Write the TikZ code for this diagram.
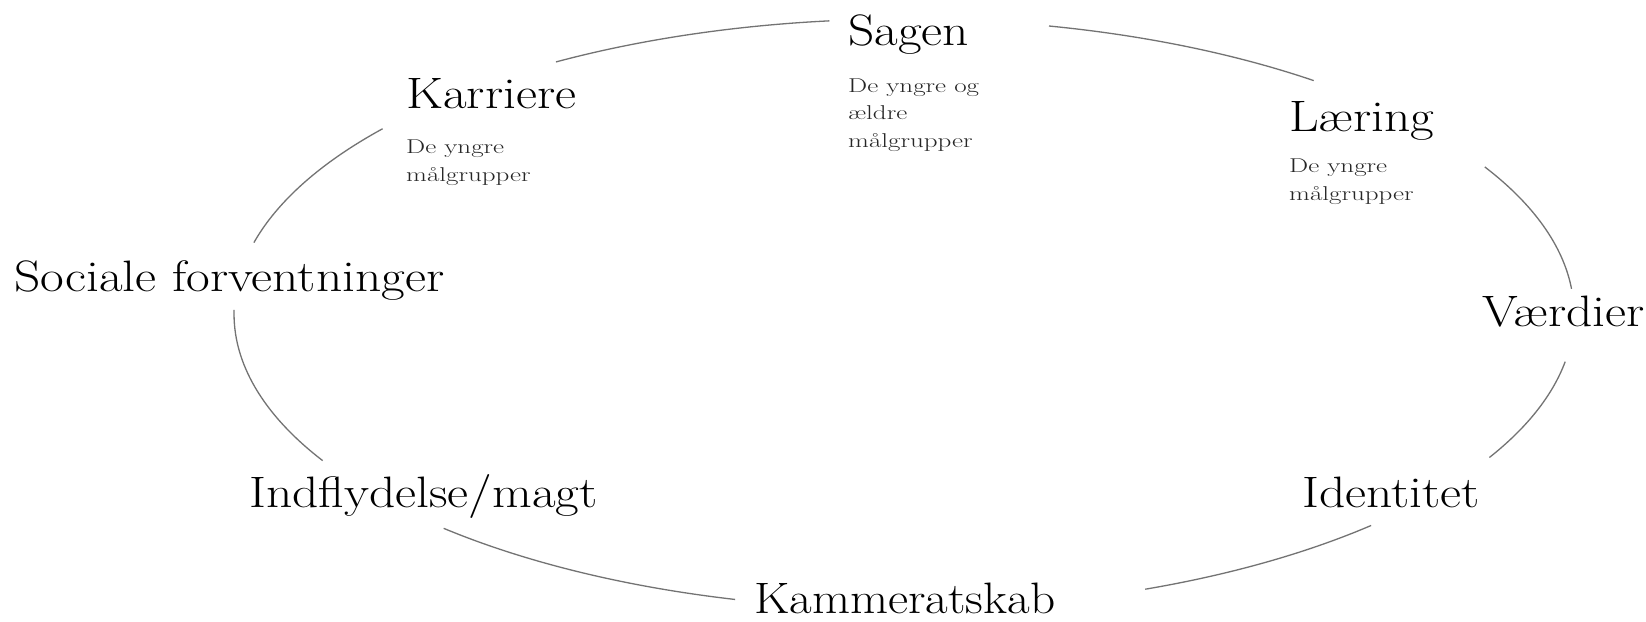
\documentclass[tikz,border=0pt]{standalone}
\usepackage{fontspec}
\newfontfamily\bigfont[FakeStretch=1.17]{Latin Modern Roman}
\newfontfamily\kammfont[FakeStretch=1.12]{Latin Modern Roman}
\newfontfamily\smallfont[FakeStretch=1.35]{Latin Modern Roman}
\begin{document}
\begin{tikzpicture}[x=1pt,y=1pt,
  big/.style={anchor=base west,inner sep=0pt,font=\bigfont\fontsize{44}{48}\selectfont},
  small/.style={anchor=base west,inner sep=0pt,align=left,text=black!85,font=\smallfont\fontsize{20}{27.5}\selectfont},
  ring/.style={draw=black!55,line width=1.3pt}]
\useasboundingbox[fill=white] (0,0) rectangle (1646,-621);
\coordinate (C) at (904,-314);
% labels
\node[big] (sagen) at (848,-45) {Sagen};
\node[small] (sagensub) at (848,-147) {De yngre og\\ældre\\målgrupper};
\node[big] (karriere) at (406,-108) {Karriere};
\node[small] (karrsub) at (406,-181) {De yngre\\målgrupper};
\node[big] (laering) at (1289,-131) {Læring};
\node[small] (laersub) at (1289,-200) {De yngre\\målgrupper};
\node[big] (vaerdier) at (1482,-326) {Værdier};
\node[big] (sociale) at (14,-291) {Sociale forventninger};
\node[big] (indfl) at (249,-507) {Indflydelse/magt};
\node[big] (ident) at (1302,-507) {Identitet};
\node[big,font=\kammfont\fontsize{44}{48}\selectfont] (kamm) at (754,-613) {Kammeratskab};
% arc segments of the ring
\path (C) ++(121.3:670 and 295) coordinate (a1);
\path (C) ++(77.5:670 and 295) coordinate (a2);
\path (C) ++(29.9:670 and 295) coordinate (a3);
\path (C) ++(-9.3:670 and 295) coordinate (a4);
\path (C) ++(-45.8:670 and 295) coordinate (a5);
\path (C) ++(-104.6:670 and 295) coordinate (a6);
\path (C) ++(209.8:670 and 295) coordinate (a7);
\path (C) ++(166.0:670 and 295) coordinate (a8);
\draw[ring] (a1) arc[start angle=121.3,end angle=96.4,x radius=670,y radius=295];
\draw[ring] (a2) arc[start angle=77.5,end angle=52.3,x radius=670,y radius=295];
\draw[ring] (a3) arc[start angle=29.9,end angle=4.9,x radius=670,y radius=295];
\draw[ring] (a4) arc[start angle=-9.3,end angle=-29.1,x radius=670,y radius=295];
\draw[ring] (a5) arc[start angle=-45.8,end angle=-68.9,x radius=670,y radius=295];
\draw[ring] (a6) arc[start angle=-104.6,end angle=-133.4,x radius=670,y radius=295];
\draw[ring] (a7) arc[start angle=209.8,end angle=179.2,x radius=670,y radius=295];
\draw[ring] (a8) arc[start angle=166.0,end angle=141.1,x radius=670,y radius=295];
\end{tikzpicture}
\end{document}
